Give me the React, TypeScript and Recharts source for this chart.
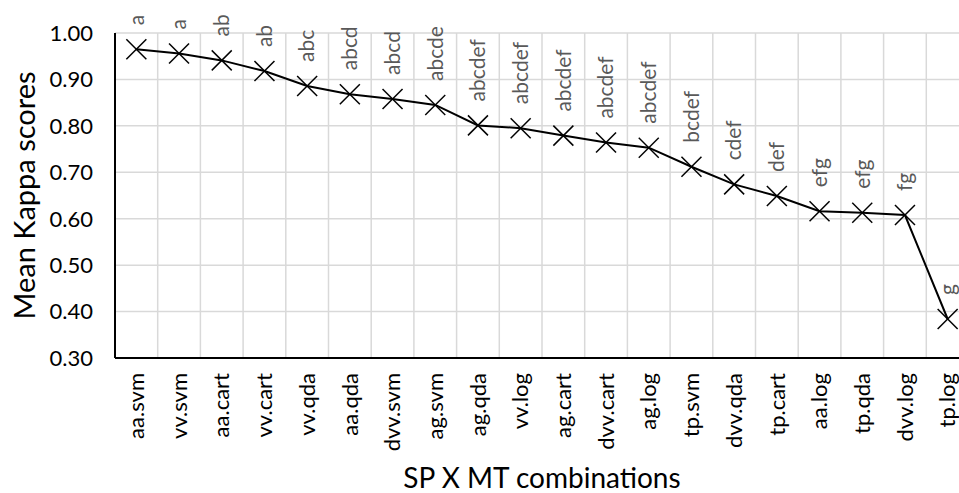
import React from 'react';
import {
  LineChart,
  Line,
  XAxis,
  YAxis,
  CartesianGrid,
  LabelList,
  Label
} from 'recharts';

// SP x MT combinations, sorted by mean kappa
const combos = [
  'aa.svm', 'vv.svm', 'aa.cart', 'vv.cart', 'vv.qda', 'aa.qda', 'dvv.svm', 'ag.svm', 'ag.qda', 'vv.log',
  'ag.cart', 'dvv.cart', 'ag.log', 'tp.svm', 'dvv.qda', 'tp.cart', 'aa.log', 'tp.qda', 'dvv.log', 'tp.log'
];
const kappa = [
  0.965, 0.956, 0.941, 0.918, 0.886, 0.868, 0.858, 0.845, 0.801, 0.795,
  0.779, 0.764, 0.753, 0.712, 0.674, 0.649, 0.616, 0.613, 0.608, 0.384
];
// significance groups shown above each point
const groups = [
  'a', 'a', 'ab', 'ab', 'abc', 'abcd', 'abcd', 'abcde', 'abcdef', 'abcdef',
  'abcdef', 'abcdef', 'abcdef', 'bcdef', 'cdef', 'def', 'efg', 'efg', 'fg', 'g'
];
const yTicks = [0.3, 0.4, 0.5, 0.6, 0.7, 0.8, 0.9, 1.0];

const data = combos.map((name, i) => ({ name, kappa: kappa[i], group: groups[i] }));

const FONT = 'Lato, "Open Sans", sans-serif';

const CrossDot = (props: any) => {
  const { cx, cy, index } = props;
  if (cx == null || cy == null) return null;
  const s = 10;
  return (
    <g key={`dot-${index}`}>
      <line x1={cx - s} y1={cy - s} x2={cx + s} y2={cy + s} stroke="#000" strokeWidth={1.5} />
      <line x1={cx - s} y1={cy + s} x2={cx + s} y2={cy - s} stroke="#000" strokeWidth={1.5} />
    </g>
  );
};

const XTick = (props: any) => {
  const { x, y, payload } = props;
  return (
    <text
      x={x}
      y={y}
      transform={`rotate(-90, ${x}, ${y})`}
      textAnchor="end"
      dy="0.35em"
      fontSize={22}
      fontFamily={FONT}
      fill="#000"
    >
      {payload.value}
    </text>
  );
};

const GroupLabel = (props: any) => {
  const { x, y, width, value } = props;
  const cx = x + (width || 0) / 2;
  const ty = y - 24;
  return (
    <text
      x={cx}
      y={ty}
      transform={`rotate(-90, ${cx}, ${ty})`}
      textAnchor="start"
      dy="0.35em"
      fontSize={21}
      fontFamily={FONT}
      fill="#595959"
    >
      {value}
    </text>
  );
};

const App = () => {
  return (
    <div style={{ position: 'fixed', left: 0, top: 0, width: 959, height: 493, overflow: 'hidden', background: '#fff' }}>
      <LineChart
        width={979}
        height={493}
        data={data}
        margin={{ top: 33, right: 10, left: 0, bottom: 0 }}
      >
        <CartesianGrid
          stroke="#d9d9d9"
          strokeWidth={1.5}
          verticalCoordinatesGenerator={({ offset }: any) =>
            combos.map((_, i) => offset.left + (i * offset.width) / combos.length).concat(offset.left + offset.width)
          }
        />
        <XAxis
          dataKey="name"
          scale="band"
          height={135}
          interval={0}
          tickLine={false}
          tickSize={0}
          tickMargin={15}
          axisLine={{ stroke: '#000', strokeWidth: 2 }}
          tick={<XTick />}
        >
          <Label
            value="SP X MT combinations"
            position="insideBottom"
            offset={5}
            style={{ fontSize: 28, fontFamily: FONT, fill: '#000' }}
          />
        </XAxis>
        <YAxis
          width={115}
          domain={[0.3, 1.0]}
          ticks={yTicks}
          tickFormatter={(v: number) => v.toFixed(2)}
          tickLine={false}
          tickSize={0}
          tickMargin={22}
          axisLine={{ stroke: '#000', strokeWidth: 2 }}
          tick={{ fontSize: 22, fontFamily: FONT, fill: '#000' }}
        >
          <Label
            value="Mean Kappa scores"
            angle={-90}
            position="insideLeft"
            offset={25}
            style={{ fontSize: 29, fontFamily: FONT, fill: '#000', textAnchor: 'middle' }}
          />
        </YAxis>
        <Line
          type="linear"
          dataKey="kappa"
          stroke="#000"
          strokeWidth={2}
          dot={<CrossDot />}
          activeDot={false}
          isAnimationActive={false}
        >
          <LabelList dataKey="group" content={<GroupLabel />} />
        </Line>
      </LineChart>
    </div>
  );
};

export default App;
